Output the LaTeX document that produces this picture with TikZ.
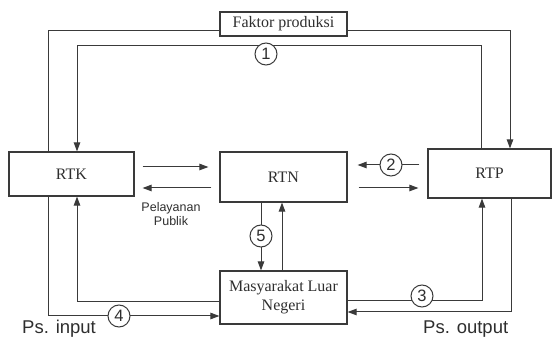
\documentclass[tikz,border=0pt]{standalone}
\usepackage{fontspec}
\setmainfont{Liberation Serif}
\setsansfont{Liberation Sans}
\usetikzlibrary{arrows.meta}
\definecolor{linegray}{HTML}{3A3A3A}
\definecolor{textgray}{HTML}{2E2E2E}

\begin{document}
\begin{tikzpicture}[x=1pt, y=-1pt,
    box/.style={draw=linegray, line width=1.2pt, inner sep=0pt, text=textgray,
      font=\fontsize{16}{19}\selectfont},
    num/.style={circle, draw=linegray, line width=1pt, fill=white, inner sep=0pt,
      minimum size=22pt, text=textgray, font=\sffamily\fontsize{16.5}{16}\selectfont},
    flow/.style={draw=linegray, line width=1pt},
    arr/.style={flow, -{Triangle[length=9pt, width=6.5pt]}}]
  \useasboundingbox (0,0) rectangle (552,339);

  \node[box, minimum width=127pt, minimum height=24pt] (fp) at (283.5,24) {Faktor produksi};
  \node[box, minimum width=125pt, minimum height=44pt] (rtk) at (71.5,174) {RTK};
  \node[box, minimum width=127pt, minimum height=50pt] (rtn) at (283.5,177) {RTN};
  \node[box, minimum width=123pt, minimum height=49pt] (rtp) at (489.5,173.5) {RTP};
  \node[box, minimum width=127pt, minimum height=53pt, align=center] (mln) at (283.5,297.5)
    {Masyarakat Luar\\Negeri};

  % factor market loops
  \draw[flow] (rtk.north -| 48,0) |- (fp.west |- 0,31);
  \draw[arr] (fp.east |- 0,31) -| (rtp.north -| 510,0);
  \draw[arr] (rtp.north -| 481,0) -- (481,46) -- (77,46) -- (rtk.north -| 77,0);

  % flows around RTN
  \draw[arr, shorten <=8pt, shorten >=11pt] (rtk.east |- 0,167) -- (rtn.west |- 0,167);
  \draw[arr, shorten <=8pt, shorten >=8pt] (rtn.west |- 0,188) -- (rtk.east |- 0,188);
  \draw[arr, shorten <=8pt, shorten >=10pt] (rtp.west |- 0,165) -- (rtn.east |- 0,165);
  \draw[arr, shorten <=11pt, shorten >=9pt] (rtn.east |- 0,188) -- (rtp.west |- 0,188);
  \draw[arr] (rtn.south -| 261,0) -- (mln.north -| 261,0);
  \draw[arr] (mln.north -| 282,0) -- (rtn.south -| 282,0);

  % foreign trade loops
  \draw[arr] (rtk.south -| 48,0) |- (mln.west |- 0,316);
  \draw[arr] (mln.west |- 0,302) -| (rtk.south -| 77,0);
  \draw[arr] (mln.east |- 0,301) -| (rtp.south -| 482,0);
  \draw[arr] (rtp.south -| 511,0) |- (mln.east |- 0,312);

  \node[num] (n1) at (266,54) {1};
  \node[num] (n2) at (391,165) {2};
  \node[num] (n3) at (422,296) {3};
  \node[num] (n4) at (119,316) {4};
  \node[num] (n5) at (261,236) {5};

  \node[align=center, text=textgray, font=\sffamily\fontsize{12.5}{14}\selectfont]
    (pp) at (171,214) {Pelayanan\\Publik};
  \node[anchor=base west, inner sep=0pt, text=textgray, font=\sffamily\fontsize{18.5}{20}\selectfont]
    (psin) at (22,334) {Ps. input};
  \node[anchor=base west, inner sep=0pt, text=textgray, font=\sffamily\fontsize{18.5}{20}\selectfont]
    (psout) at (423,334) {Ps. output};
\end{tikzpicture}
\end{document}
